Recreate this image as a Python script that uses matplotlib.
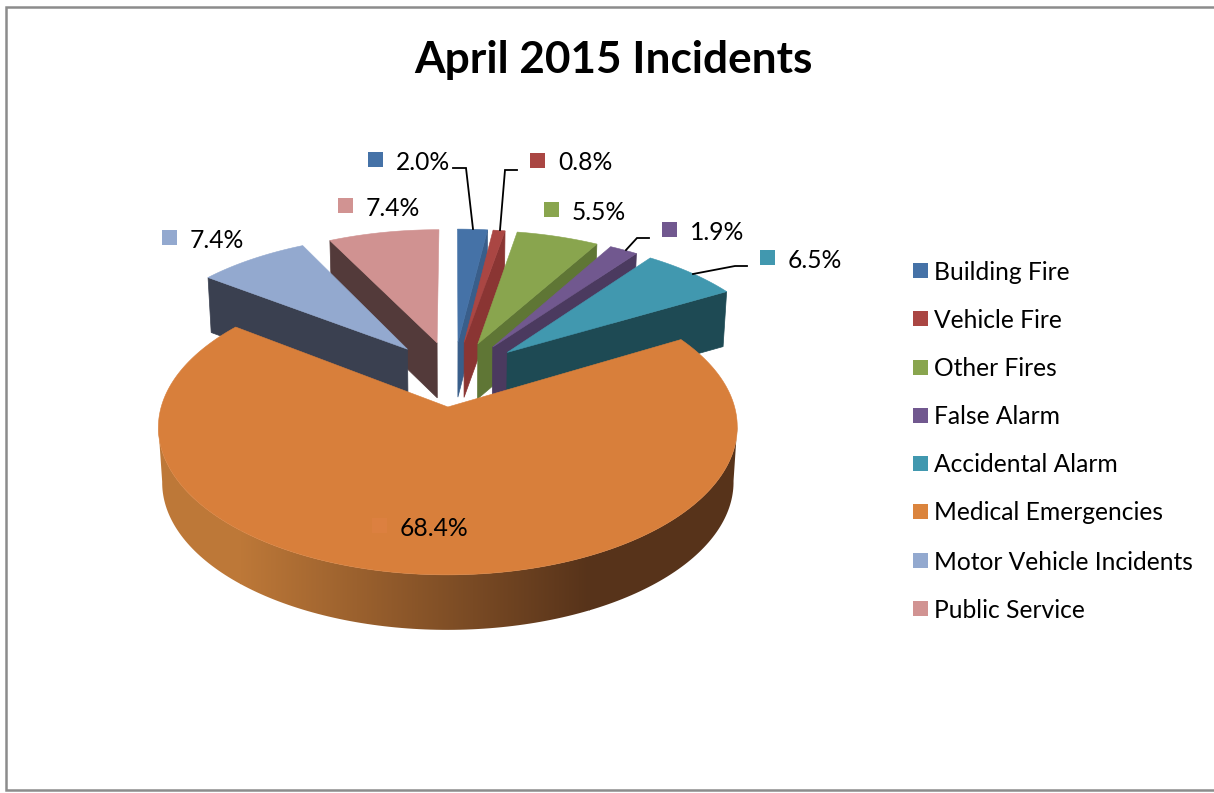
import numpy as np
import matplotlib
matplotlib.use('Agg')
import matplotlib.pyplot as plt
from matplotlib.patches import Polygon, Rectangle
from matplotlib.colors import LinearSegmentedColormap

categories = ['Building Fire', 'Vehicle Fire', 'Other Fires', 'False Alarm',
              'Accidental Alarm', 'Medical Emergencies',
              'Motor Vehicle Incidents', 'Public Service']
values = [2.0, 0.8, 5.5, 1.9, 6.5, 68.4, 7.4, 7.4]
labels = ['2.0%', '0.8%', '5.5%', '1.9%', '6.5%', '68.4%', '7.4%', '7.4%']

top_colors = ['#4572a7', '#aa4643', '#89a54e', '#71588f', '#4198af', '#d87f3b', '#93a9cf', '#d09291']
side_colors = ['#395e8a', '#8a3533', '#5f7635', '#4b3a5f', '#1e4a54', '#57331a', '#3a4050', '#533a3a']

# where each data label's colour key sits, centre x, centre y
label_pos = [(375, 159), (537, 160), (551, 209), (669, 229), (767, 257), (379, 525), (169, 237), (345, 205)]
leaders = [[(453, 168), (466, 168), (473, 229)],
           [(517, 170), (505, 170), (500, 230)],
           [(649, 238), (637, 238), (626, 250)],
           [(747, 266), (735, 266), (693, 274)]]
legend_y = [270, 318, 367, 415, 463, 511, 560, 608]

# camera for the tilted pie
X0, Y0, A, B, K = 452, 373.5, 279, 135.8, 0.133
EXPLODE = 0.239
DEPTH = 55
INSET = 0.987
MEDICAL = 5


def project(u, v, shift=0.0):
    w = 1 + K * v
    return X0 + shift + A * u / w, Y0 - B * v / w


def drop(x, y):
    return X0 + (x - X0) * INSET, y + DEPTH


def slice_points(i, start, end):
    mid = np.radians((start + end) / 2)
    ex = EXPLODE * np.sin(mid)
    ey = EXPLODE * np.cos(mid)
    rx = 0.995
    shift = 0.0
    if i != MEDICAL:
        rx = 1.0
        ex *= 1.1
        shift = 1.5
    th = np.radians(np.linspace(start, end, 240))
    apex = project(ex, ey, shift)
    xs, ys = project(ex + rx * np.sin(th), ey + np.cos(th), shift)
    return apex, xs, ys, mid


def cut_face(ax, apex, px, py, color, z):
    pts = [apex, (px, py), drop(px, py), drop(*apex)]
    ax.add_patch(Polygon(pts, closed=True, fc=color, ec=color, lw=0.5, zorder=z))


fig = plt.figure(figsize=(12.14, 7.93), dpi=100)
ax = fig.add_axes([0, 0, 1, 1])
plt.rcParams['font.family'] = ['Lato', 'DejaVu Sans']

ax.add_patch(Rectangle((6, 6.5), 1225, 783, fc='white', ec='#8c8c8c', lw=1.8, zorder=0))

angles = np.cumsum([0] + values) / sum(values) * 360
draw_order = [7, 6, 0, 1, 2, 3, 4, 5]
for n, i in enumerate(draw_order):
    z = 2 + n
    apex, xs, ys, mid = slice_points(i, angles[i], angles[i + 1])
    if i == MEDICAL:
        # rim of the big slice, shaded from left to right
        r, l = np.argmax(xs), np.argmin(xs)
        low = [drop(x, y) for x, y in zip(xs[r:l + 1], ys[r:l + 1])]
        upper = list(zip(xs[r:l + 1], ys[r:l + 1]))
        rim = Polygon(low + upper[::-1], closed=True, fc='none', ec='none', zorder=z)
        ax.add_patch(rim)
        shade = LinearSegmentedColormap.from_list('rim', ['#bd7838', side_colors[i]])
        img = ax.imshow(np.linspace(0, 1, 256).reshape(1, -1), cmap=shade, aspect='auto',
                        extent=(240, 590, 640, 300), zorder=z, interpolation='bilinear')
        left = ax.imshow([[0.0]], cmap=shade, vmin=0, vmax=1, aspect='auto',
                         extent=(140, 241, 640, 300), zorder=z)
        right = ax.imshow([[1.0]], cmap=shade, vmin=0, vmax=1, aspect='auto',
                          extent=(589, 760, 640, 300), zorder=z)
        for im in (img, left, right):
            im.set_clip_path(rim)
    elif np.sin(mid) > 0:
        cut_face(ax, apex, xs[-1], ys[-1], side_colors[i], z)
    else:
        cut_face(ax, apex, xs[0], ys[0], side_colors[i], z)
    pts = [apex] + list(zip(xs, ys))
    ax.add_patch(Polygon(pts, closed=True, fc=top_colors[i], ec=top_colors[i], lw=0.4, zorder=z + 0.5))

for line in leaders:
    lx, ly = zip(*line)
    ax.plot(lx, ly, color='black', lw=1.3, zorder=20, solid_joinstyle='miter')

legend_colors = ['#4572a7', '#aa4643', '#89a54e', '#71588f', '#4198af', '#db843d', '#93a9cf', '#d19392']
key_colors = list(legend_colors)
key_colors[MEDICAL] = '#dc8040'
for (cx, cy), txt, c in zip(label_pos, labels, key_colors):
    ax.add_patch(Rectangle((cx - 7.5, cy - 7.5), 15, 15, fc=c, ec='none', zorder=21))
    ax.text(cx + 21, cy + 3, txt, fontsize=17.7, va='center', ha='left', color='black', zorder=22)

for name, y, c in zip(categories, legend_y, legend_colors):
    ax.add_patch(Rectangle((913, y - 7.5), 15, 15, fc=c, ec='none', zorder=21))
    ax.text(934.5, y + 2, name, fontsize=17.7, va='center', ha='left', color='black', zorder=22)

ax.text(613.5, 60, 'April 2015 Incidents', fontsize=31.8, fontweight='bold', ha='center', va='center', color='black')

ax.set_xlim(0, 1214)
ax.set_ylim(793, 0)
ax.axis('off')

fig.savefig('out.png', dpi=100)
